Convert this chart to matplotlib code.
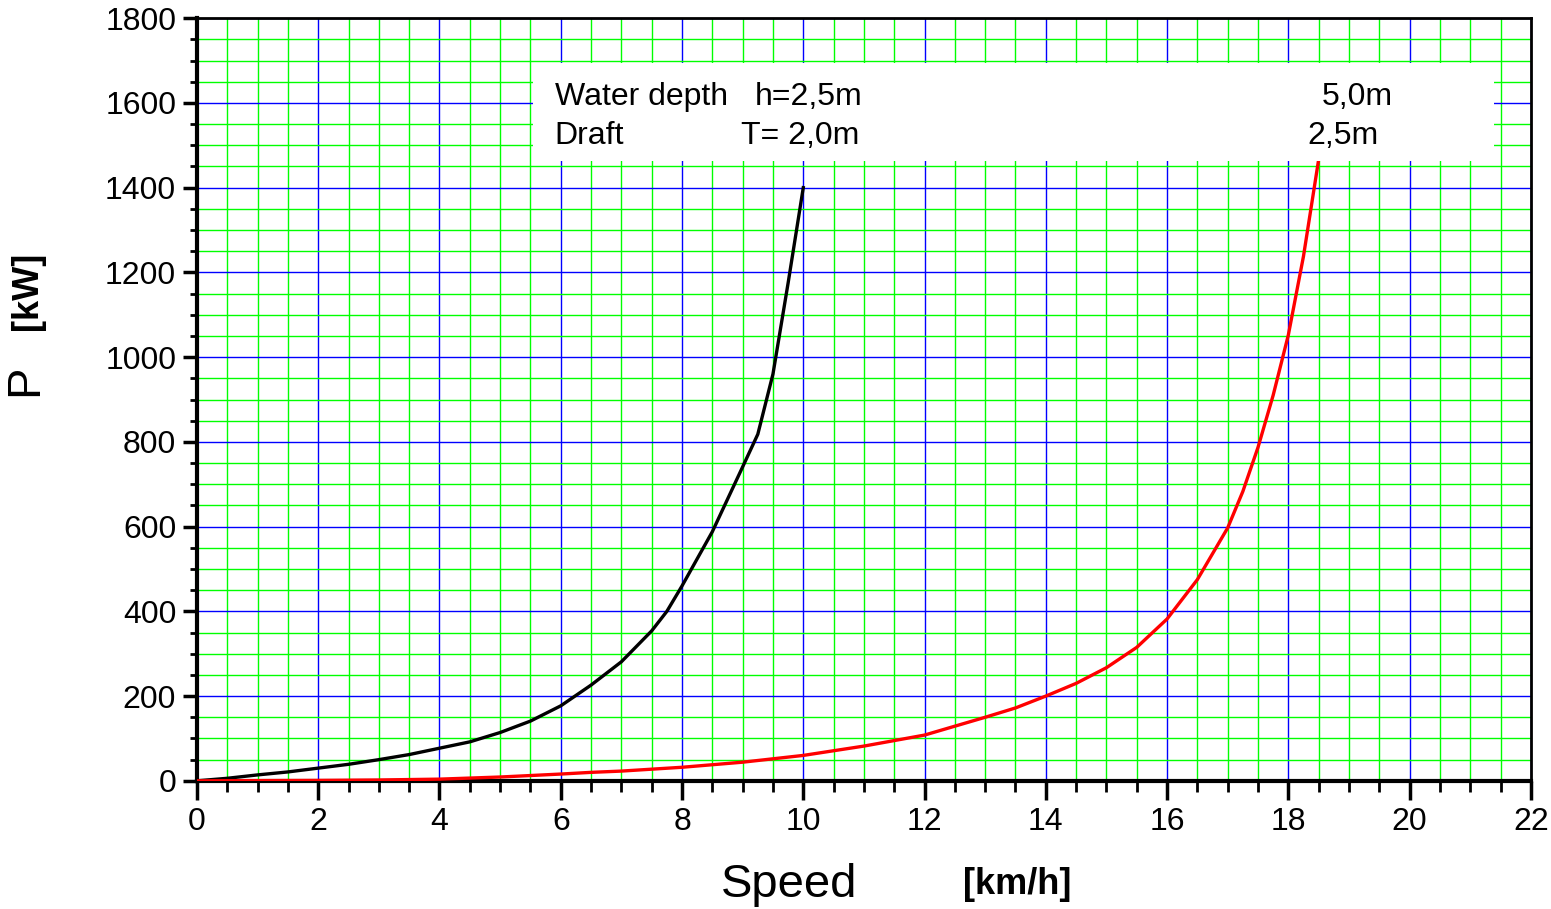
import matplotlib
matplotlib.use('Agg')
import matplotlib.pyplot as plt
from matplotlib.patches import Rectangle
from matplotlib.ticker import MultipleLocator

plt.rcParams['font.family'] = ['Liberation Sans', 'DejaVu Sans']

# shallow water h=2,5m / T=2,0m
speed_a = [0, 0.5, 1, 1.5, 2, 2.5, 3, 3.5, 4, 4.5, 5, 5.5, 6, 6.5, 7, 7.5, 7.75, 8,
           8.5, 9, 9.25, 9.5, 9.75, 10]
power_a = [0, 6, 14, 21, 30, 39, 50, 62, 77, 92, 114, 141, 177, 226, 281, 354, 400, 460,
           588, 741, 818, 960, 1175, 1400]
# h=5,0m / T=2,5m
speed_b = [0, 2, 3, 4, 5, 6, 6.5, 7, 8, 9, 10, 11, 12, 13, 13.5, 14, 14.5, 15, 15.5,
           16, 16.5, 17, 17.25, 17.5, 17.75, 18, 18.25, 18.5]
power_b = [0, 1, 2, 4, 9, 16, 20, 23, 32, 44, 60, 82, 108, 150, 172, 200, 230, 267, 315,
           382, 475, 597, 683, 787, 910, 1052, 1238, 1466]

fig = plt.figure(figsize=(15.51, 9.09), dpi=100)
ax = fig.add_axes([0.127, 0.141, 0.860, 0.839])

ax.set_xlim(0, 22)
ax.set_ylim(0, 1800)
ax.xaxis.set_major_locator(MultipleLocator(2))
ax.xaxis.set_minor_locator(MultipleLocator(0.5))
ax.yaxis.set_major_locator(MultipleLocator(200))
ax.yaxis.set_minor_locator(MultipleLocator(50))

ax.grid(which='minor', color='#00ff00', lw=1.0, zorder=0)
ax.grid(which='major', color='#0000ff', lw=1.0, zorder=0)
ax.set_axisbelow(True)

ax.plot(speed_a, power_a, color='black', lw=2.4, zorder=3, solid_joinstyle='round')
ax.plot(speed_b, power_b, color='#ff0000', lw=2.4, zorder=3, solid_joinstyle='round')

# white box for the legend text, covers grid and curve end
ax.add_patch(Rectangle((5.54, 1463), 21.4 - 5.54, 1694 - 1463, facecolor='white',
                       edgecolor='none', zorder=4))
ax.text(5.9, 1614, 'Water depth', fontsize=23, va='center', zorder=5)
ax.text(9.2, 1614, 'h=2,5m', fontsize=23, va='center', zorder=5)
ax.text(5.9, 1522, 'Draft', fontsize=23, va='center', zorder=5)
ax.text(8.97, 1522, 'T= 2,0m', fontsize=23, va='center', zorder=5)
ax.text(18.55, 1614, '5,0m', fontsize=23, va='center', zorder=5)
ax.text(18.32, 1522, '2,5m', fontsize=23, va='center', zorder=5)

for side in ['left', 'bottom']:
    ax.spines[side].set_linewidth(3)
for side in ['top', 'right']:
    ax.spines[side].set_linewidth(2)

ax.tick_params(which='major', direction='out', length=10, width=2.5, labelsize=23, pad=5)
ax.tick_params(which='minor', direction='out', length=5, width=2)
ax.tick_params(axis='x', which='major', length=14)
ax.tick_params(axis='x', which='minor', length=8)

fig.text(0.509, 0.013, 'Speed', fontsize=34, ha='center', va='baseline')
fig.text(0.656, 0.016, '[km/h]', fontsize=26, fontweight='bold', ha='center', va='baseline')
fig.text(0.016, 0.582, 'P', fontsize=34, rotation=90, ha='center', va='center')
fig.text(0.018, 0.68, '[kW]', fontsize=26, fontweight='bold', rotation=90, ha='center', va='center')

fig.savefig('out.png', dpi=100)
